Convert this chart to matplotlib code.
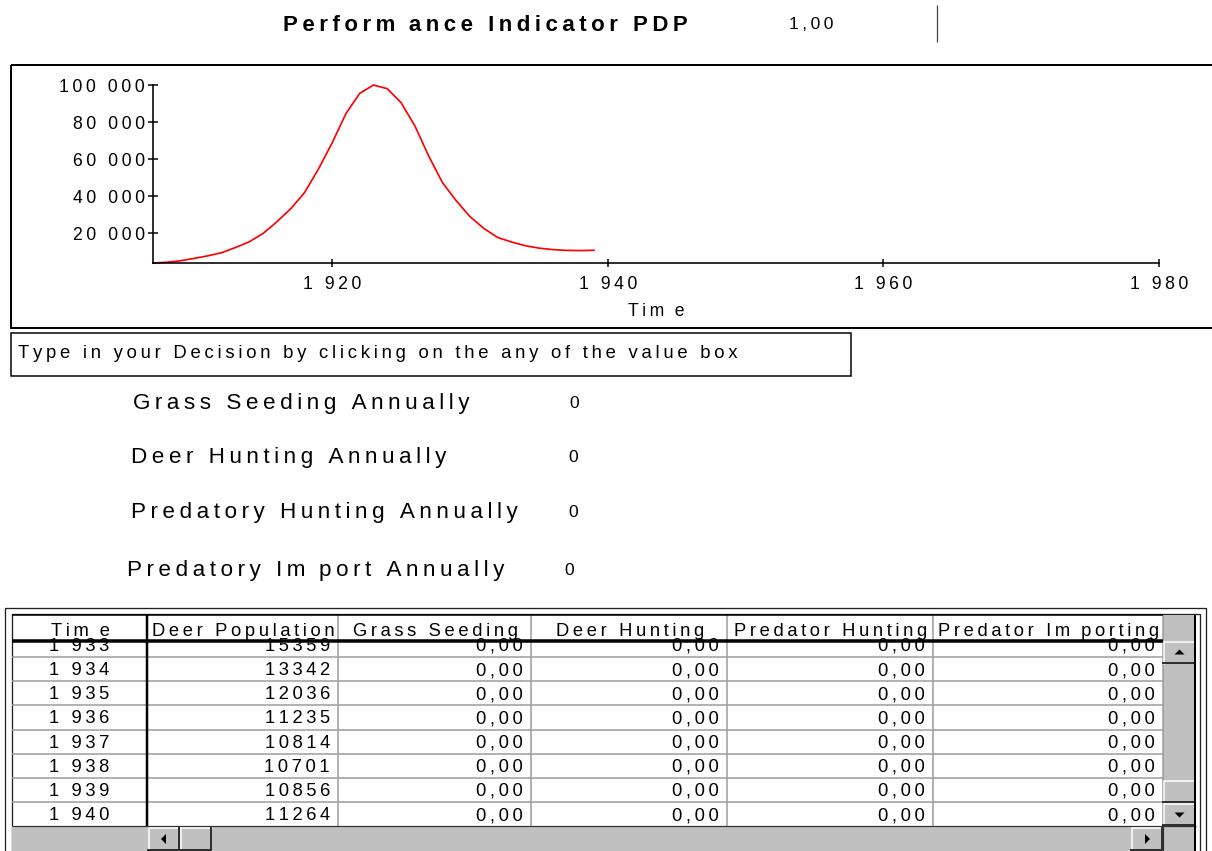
import matplotlib
matplotlib.use("Agg")
import matplotlib.pyplot as plt
from matplotlib.patches import Rectangle, Polygon
from matplotlib.ticker import FixedLocator, FuncFormatter

plt.rcParams['font.family'] = ['Liberation Sans', 'DejaVu Sans']

# ---------------- data ----------------
title_text = "Performance Indicator PDP"
pdp_value = 1.00

chart_years = list(range(1907, 1940))
chart_deer = [4000, 4400, 5200, 6500, 7900, 9600, 12400, 15500, 20000, 26300,
              33300, 42000, 54600, 68800, 84600, 95500, 100000, 98000, 90500, 78000,
              61800, 47400, 37600, 29000, 22700, 17800, 15359, 13342, 12036, 11235,
              10814, 10701, 10856]
x_ticks = [1920, 1940, 1960, 1980]
y_ticks = [20000, 40000, 60000, 80000, 100000]
x_label = "Time"

instruction = "Type in your Decision by clicking on the any of the value box"
decision_labels = ["Grass Seeding Annually", "Deer Hunting Annually",
                   "Predatory Hunting Annually", "Predatory Import Annually"]
decision_values = [0, 0, 0, 0]

table_columns = ["Time", "Deer Population", "Grass Seeding", "Deer Hunting",
                 "Predator Hunting", "Predator Importing"]
table_years = [1933, 1934, 1935, 1936, 1937, 1938, 1939, 1940]
table_deer = [15359, 13342, 12036, 11235, 10814, 10701, 10856, 11264]
table_grass = [0.0, 0.0, 0.0, 0.0, 0.0, 0.0, 0.0, 0.0]
table_deer_hunt = [0.0, 0.0, 0.0, 0.0, 0.0, 0.0, 0.0, 0.0]
table_pred_hunt = [0.0, 0.0, 0.0, 0.0, 0.0, 0.0, 0.0, 0.0]
table_pred_imp = [0.0, 0.0, 0.0, 0.0, 0.0, 0.0, 0.0, 0.0]

# ---------------- helpers ----------------
W, H, DPI = 1212, 851, 100
GAP = "\u2009"


def sp(s, gap=GAP):
    out = []
    for i, ch in enumerate(s):
        out.append(ch)
        if i < len(s) - 1:
            out.append(gap)
            if ch == 'm':
                out.append(gap + gap)
    return "".join(out)


def fmt_thousands(v):
    return "{:,}".format(int(round(v))).replace(",", " ")


def fmt_dec(v):
    return "{:.2f}".format(v).replace(".", ",")


fig = plt.figure(figsize=(W / DPI, H / DPI), dpi=DPI)
fig.patch.set_facecolor('white')

bg = fig.add_axes([0, 0, 1, 1])
bg.set_xlim(0, W)
bg.set_ylim(H, 0)
bg.axis('off')
PX = 0.72  # points per pixel


def txt(x, y, s, size, ha='left', va='baseline', weight='normal', **kw):
    return bg.text(x, y, sp(s), fontsize=size, ha=ha, va=va,
                   fontweight=weight, color='black', **kw)


def hline(x0, x1, y, color='black', lw=1.0, **kw):
    bg.plot([x0, x1], [y, y], color=color, lw=lw * PX, solid_capstyle='butt', **kw)


def vline(x, y0, y1, color='black', lw=1.0, **kw):
    bg.plot([x, x], [y0, y1], color=color, lw=lw * PX, solid_capstyle='butt', **kw)


# ---------------- header ----------------
txt(283, 31, title_text, 16, weight='bold')
txt(789, 29, fmt_dec(pdp_value), 12.6)
vline(937, 5, 42, color='#404040', lw=1.2)

# ---------------- chart frame ----------------
bg.add_patch(Rectangle((11, 65), 1260, 263, fill=False, edgecolor='black', lw=2 * PX))

ax_l, ax_r, ax_t, ax_b = 153, 1159, 85, 263
ax = fig.add_axes([ax_l / W, 1 - ax_b / H, (ax_r - ax_l) / W, (ax_b - ax_t) / H])
ax.patch.set_alpha(0)
ax.plot(chart_years, chart_deer, color='#ff0000', lw=1.7 * PX, clip_on=False)
ax.set_xlim(1907, 1980)
ax.set_ylim(4000, 100000)
for s in ['top', 'right']:
    ax.spines[s].set_visible(False)
for s in ['left', 'bottom']:
    ax.spines[s].set_linewidth(1.6 * PX)
    ax.spines[s].set_color('black')
ax.xaxis.set_major_locator(FixedLocator(x_ticks))
ax.yaxis.set_major_locator(FixedLocator(y_ticks))
ax.xaxis.set_major_formatter(FuncFormatter(lambda v, p: sp(fmt_thousands(v))))
ax.yaxis.set_major_formatter(FuncFormatter(lambda v, p: sp(fmt_thousands(v))))
ax.tick_params(axis='y', direction='inout', length=10 * PX, width=1.5 * PX,
               pad=3 * PX, labelsize=12.7, colors='black')
ax.tick_params(axis='x', direction='inout', length=8 * PX, width=1.5 * PX,
               pad=9 * PX, labelsize=12.7, colors='black')
ax.set_xlabel(sp(x_label), fontsize=12.7, labelpad=10 * PX)

# ---------------- decision panel ----------------
bg.add_patch(Rectangle((11, 333), 840, 43, fill=False, edgecolor='black', lw=1.5 * PX))
txt(18, 358, instruction, 13.3)

label_pos = [(133, 409), (131, 463), (131, 518), (127, 576)]
value_pos = [(569, 408), (568, 462), (568, 517), (564, 575)]
for lab, val, (lx, ly), (vx, vy) in zip(decision_labels, decision_values, label_pos, value_pos):
    txt(lx, ly, lab, 16.2)
    txt(vx, vy, str(val), 12.5)

# ---------------- table ----------------
bg.add_patch(Rectangle((5, 608), 1201, 300, fill=False, edgecolor='#202020', lw=1.3 * PX))
bg.add_patch(Rectangle((12, 614), 1188, 300, fill=False, edgecolor='#202020', lw=1.3 * PX))

col_edges = [12, 147, 338, 531, 727, 933, 1163]
head_top, head_bot = 615, 641
row_h = 24.17
row0_base = 675 - row_h
body_bot = 826
TS = 13.2

for i, name in enumerate(table_columns):
    cx = (col_edges[i] + col_edges[i + 1]) / 2
    txt(cx + 1, 636, name, TS, ha='center')

clip = Rectangle((12, head_bot), 1151, body_bot - head_bot, transform=bg.transData,
                 facecolor='none', edgecolor='none')
bg.add_patch(clip)

columns_data = [table_deer, table_grass, table_deer_hunt, table_pred_hunt, table_pred_imp]
for r, yr in enumerate(table_years):
    base = row0_base + r * row_h
    t = txt((col_edges[0] + col_edges[1]) / 2, base, fmt_thousands(yr), TS, ha='center')
    t.set_clip_path(clip)
    for c, col in enumerate(columns_data):
        v = col[r]
        s = str(v) if c == 0 else fmt_dec(v)
        t = txt(col_edges[c + 2] - 8, base, s, TS, ha='right')
        t.set_clip_path(clip)

for k in range(len(table_years)):
    y = head_bot + 16 + k * row_h
    if y < body_bot:
        hline(12, 1163, y, color='#9a9a9a', lw=1.5)

for xe in col_edges[2:]:
    vline(xe, head_top, body_bot, color='#9a9a9a', lw=1.5)
vline(147, head_top, body_bot, color='black', lw=2.5)
hline(12, 1163, head_top, color='black', lw=1.5)
hline(12, 1163, head_bot, color='black', lw=3.5)


def bevel(x0, y0, x1, y1):
    bg.add_patch(Rectangle((x0, y0), x1 - x0, y1 - y0, facecolor='#c0c0c0', edgecolor='none'))
    bg.plot([x0 + 0.5, x0 + 0.5, x1], [y1, y0 + 0.5, y0 + 0.5], color='white', lw=1.5 * PX)
    bg.plot([x0, x1 - 1, x1 - 1], [y1 - 1, y1 - 1, y0], color='#303030', lw=2 * PX)


def tri(cx, cy, direction):
    s = 5
    if direction == 'up':
        pts = [(cx - s, cy + 2), (cx + s, cy + 2), (cx, cy - 3)]
    elif direction == 'down':
        pts = [(cx - s, cy - 2), (cx + s, cy - 2), (cx, cy + 3)]
    elif direction == 'left':
        pts = [(cx + 2, cy - s), (cx + 2, cy + s), (cx - 3, cy)]
    else:
        pts = [(cx - 2, cy - s), (cx - 2, cy + s), (cx + 3, cy)]
    bg.add_patch(Polygon(pts, closed=True, facecolor='black', edgecolor='none'))


# vertical scrollbar
bg.add_patch(Rectangle((1163, head_top), 33, body_bot - head_top, facecolor='#c0c0c0', edgecolor='none'))
bevel(1163, 641, 1196, 664)
tri(1179.5, 652.5, 'up')
bevel(1163, 780, 1196, 803)
bevel(1163, 803, 1196, 826)
tri(1179.5, 814.5, 'down')

# horizontal scrollbar
bg.add_patch(Rectangle((12, body_bot), 1184, 851 - body_bot, facecolor='#c0c0c0', edgecolor='none'))
hline(12, 1196, body_bot, color='#303030', lw=1.2)
vline(1195, head_top, 851, color='black', lw=2)
bevel(148, 827, 180, 851)
tri(164, 839, 'left')
bevel(180, 827, 212, 851)
bevel(1131, 827, 1163, 851)
tri(1147, 839, 'right')
vline(1163, body_bot, 851, color='#303030', lw=1.2)

fig.savefig("out.png", dpi=DPI, facecolor='white')
